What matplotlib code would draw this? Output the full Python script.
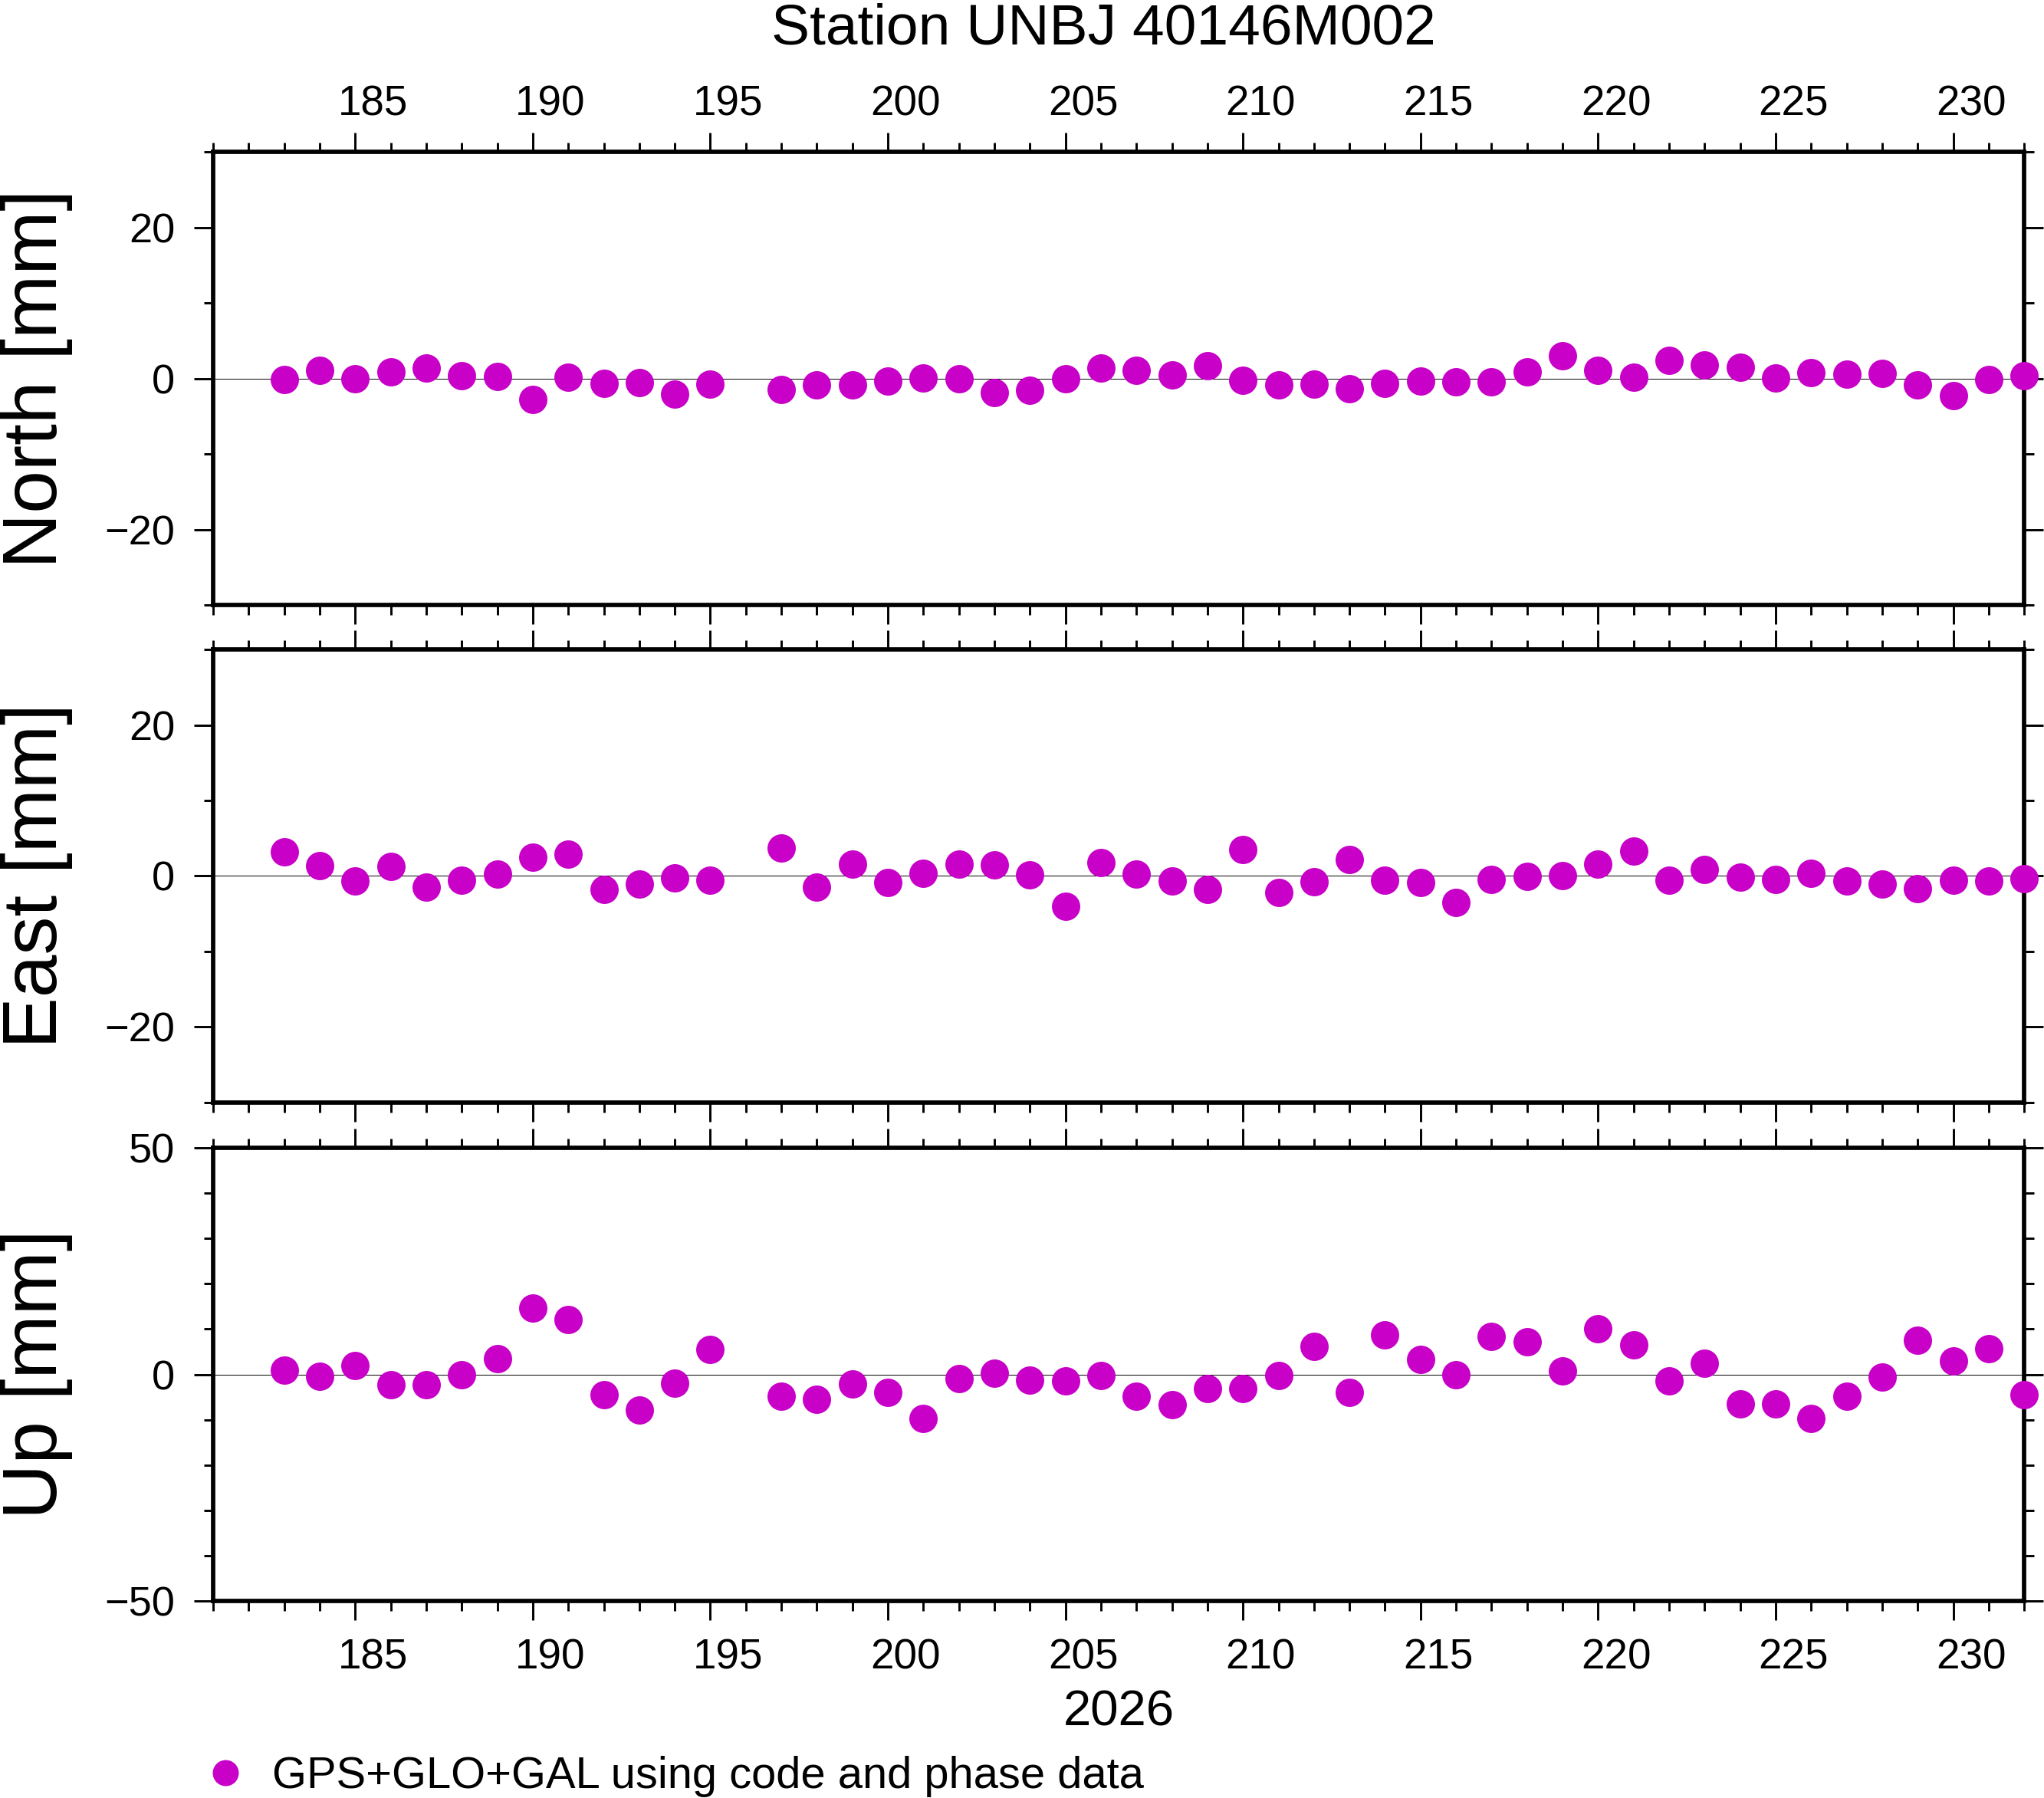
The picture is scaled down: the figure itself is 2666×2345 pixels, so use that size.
import matplotlib
matplotlib.use("Agg")
import matplotlib.pyplot as plt
import matplotlib.transforms as mtransforms
from matplotlib.ticker import MultipleLocator

plt.rcParams["font.family"] = ["Liberation Sans", "DejaVu Sans"]

# Texte
title = "Station UNBJ 40146M002"
year_label = "2026"
legend_label = "GPS+GLO+GAL using code and phase data"
ylabels = ["North [mm]", "East [mm]", "Up [mm]"]

# Tage (Tag 196 fehlt)
days = [183, 184, 185, 186, 187, 188, 189, 190, 191, 192, 193, 194, 195,
        197, 198, 199, 200, 201, 202, 203, 204, 205, 206, 207, 208, 209,
        210, 211, 212, 213, 214, 215, 216, 217, 218, 219, 220, 221, 222,
        223, 224, 225, 226, 227, 228, 229, 230, 231, 232]

# Residuen in mm
north = [-0.1, 1.1, 0.0, 0.9, 1.4, 0.4, 0.3, -2.8, 0.2, -0.6, -0.5, -2.1, -0.7,
         -1.5, -0.9, -0.9, -0.3, 0.1, 0.0, -1.9, -1.6, 0.0, 1.4, 1.1, 0.5, 1.7,
         -0.2, -0.8, -0.7, -1.4, -0.6, -0.3, -0.4, -0.4, 0.9, 3.0, 1.1, 0.2, 2.4,
         1.8, 1.5, 0.1, 0.8, 0.6, 0.7, -0.8, -2.3, -0.1, 0.4]
east = [3.2, 1.4, -0.7, 1.3, -1.5, -0.6, 0.3, 2.5, 2.9, -1.8, -1.1, -0.3, -0.6,
        3.7, -1.5, 1.6, -0.9, 0.4, 1.6, 1.5, 0.2, -4.0, 1.8, 0.3, -0.7, -1.8,
        3.5, -2.2, -0.8, 2.2, -0.6, -0.9, -3.5, -0.5, -0.1, 0.0, 1.6, 3.3, -0.6,
        0.9, -0.2, -0.5, 0.4, -0.7, -1.1, -1.7, -0.6, -0.7, -0.4]
up = [0.9, -0.5, 1.9, -2.3, -2.3, -0.1, 3.4, 14.6, 12.1, -4.5, -7.9, -2.0, 5.5,
      -4.8, -5.5, -2.1, -4.0, -9.7, -1.0, 0.2, -1.3, -1.5, -0.3, -4.8, -6.7, -3.2,
      -3.2, -0.3, 6.1, -4.0, 8.8, 3.3, -0.1, 8.3, 7.2, 0.7, 10.0, 6.6, -1.5,
      2.4, -6.5, -6.5, -9.7, -4.8, -0.6, 7.5, 2.9, 5.6, -4.5]

series = [north, east, up]
ylims = [30, 30, 50]
ymajor = [20, 20, 50]
xmin, xmax = 181, 232
farbe = "#c800c8"

fig = plt.figure(figsize=(26.66, 23.45), dpi=100)

left, width = 0.1043, 0.886
bottoms = [0.6635, 0.3868, 0.1096]
height = 0.2520

axes = []
for i in range(3):
    ax = fig.add_axes([left, bottoms[i], width, height])
    ax.axhline(0, color="black", lw=0.7, zorder=1)
    line, = ax.plot(days, series[i], "o", color=farbe, ms=26.6, mec="none",
                    clip_on=False, zorder=3)
    ax.set_xlim(xmin, xmax)
    ax.set_ylim(-ylims[i], ylims[i])

    ax.xaxis.set_major_locator(MultipleLocator(5))
    ax.xaxis.set_minor_locator(MultipleLocator(1))
    ax.yaxis.set_major_locator(MultipleLocator(ymajor[i]))
    ax.yaxis.set_minor_locator(MultipleLocator(10))

    ax.tick_params(which="both", direction="out", top=True, bottom=True,
                   left=True, right=True, width=2.1, colors="black")
    ax.tick_params(which="major", length=18)
    ax.tick_params(which="minor", length=9)
    ax.tick_params(axis="y", labelsize=39, pad=18, labelright=False)
    ax.tick_params(axis="x", labelsize=39.5,
                   labeltop=(i == 0), labelbottom=(i == 2))
    ax.tick_params(axis="x", which="major", pad=17 if i == 2 else 8)
    for s in ax.spines.values():
        s.set_linewidth(4.1)

    # Beschriftung mittig im Tagesintervall (wie GMT)
    ax_w_in = width * fig.get_figwidth()
    shift = 0.5 * ax_w_in / (xmax - xmin)
    offset = mtransforms.ScaledTranslation(shift, 0, fig.dpi_scale_trans)
    for tick in ax.xaxis.get_major_ticks():
        tick.label1.set_transform(tick.label1.get_transform() + offset)
        tick.label2.set_transform(tick.label2.get_transform() + offset)

    fig.text(0.0278, bottoms[i] + height / 2, ylabels[i], rotation=90,
             rotation_mode="anchor", ha="center", va="baseline", fontsize=72)
    axes.append((ax, line))

fig.text(0.540, 1 - 57 / 2345, title, ha="center", va="baseline", fontsize=54)
fig.text(left + width / 2, 0.0405, year_label, ha="center", va="baseline",
         fontsize=47)

fig.legend([axes[0][1]], [legend_label], loc="center left",
           bbox_to_anchor=(0.0996, 0.0118), frameon=False, fontsize=41.7,
           handlelength=1.0, handletextpad=0.55, borderpad=0,
           borderaxespad=0, markerscale=0.92)

fig.savefig("out.png", dpi=100)
